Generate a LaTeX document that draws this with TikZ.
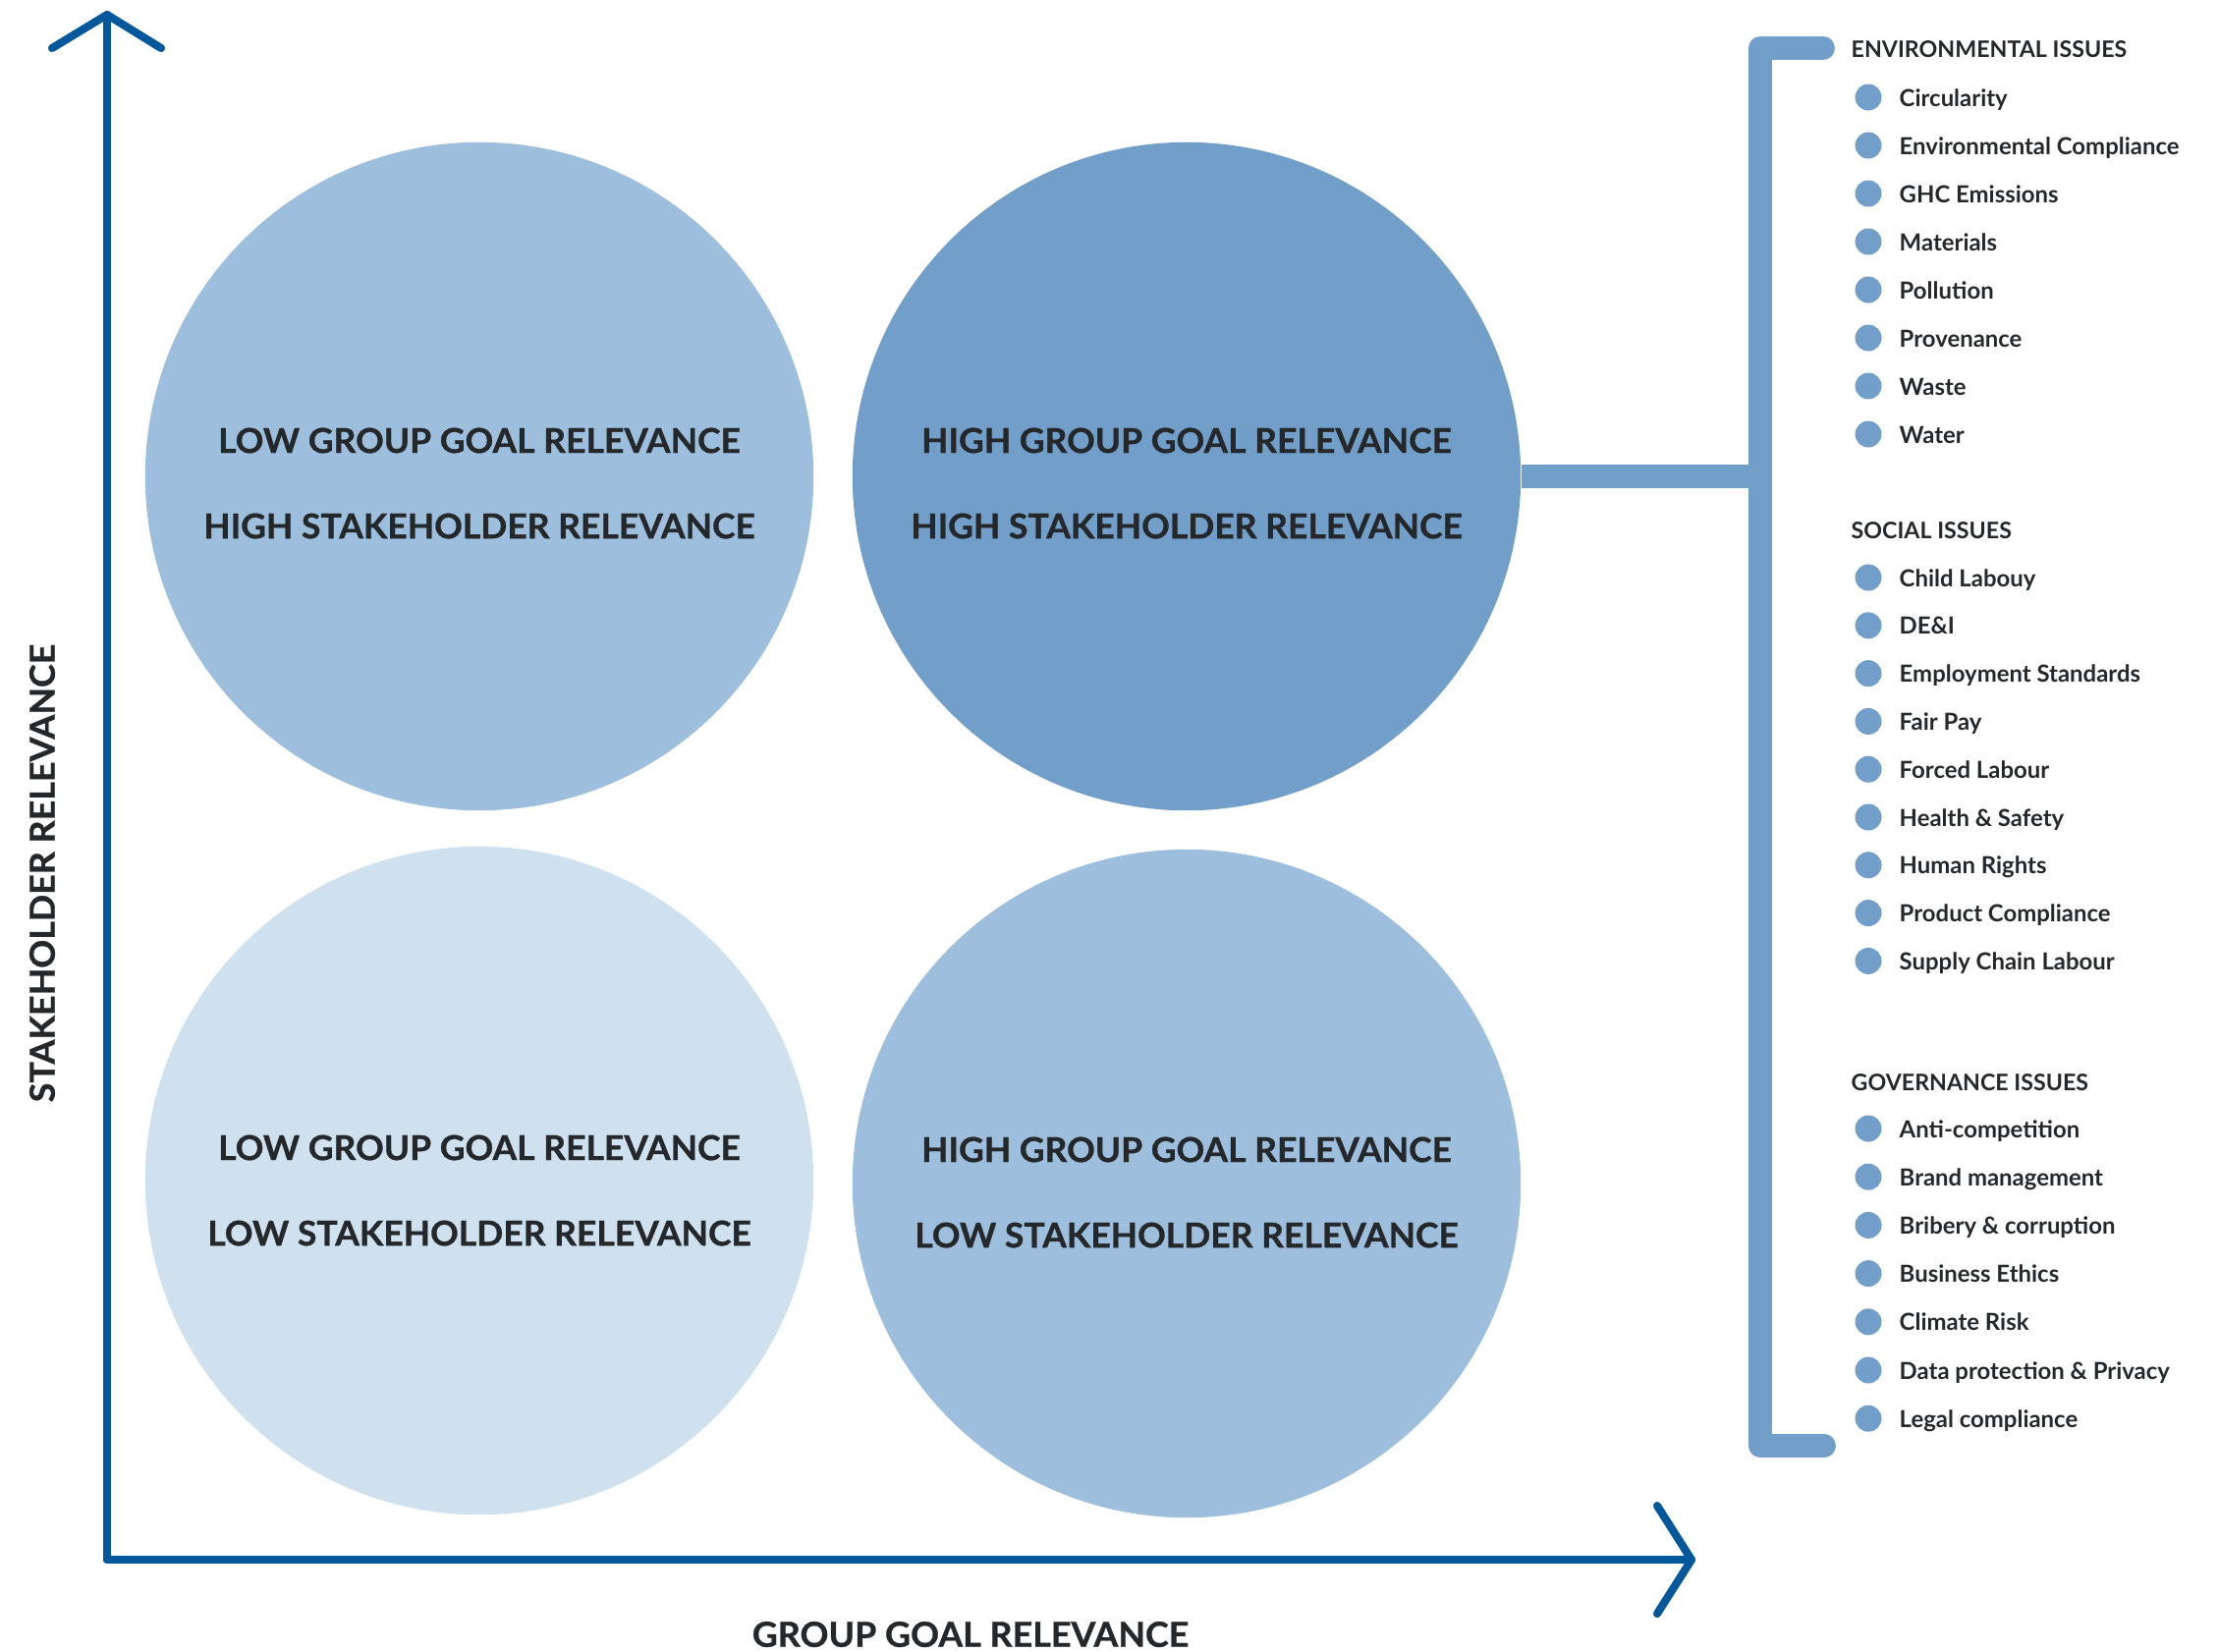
\documentclass[tikz,border=0pt]{standalone}
\usepackage{fontspec}
\setmainfont{Lato}
\newfontfamily\widefont{Lato}[FakeStretch=1.02, FakeBold=0.8]
\usetikzlibrary{positioning}

\definecolor{axisblue}{HTML}{02589A}
\definecolor{midblue}{HTML}{729FC9}
\definecolor{paleblue}{HTML}{9DBFDD}
\definecolor{palestblue}{HTML}{CFE1EF}
\definecolor{inkgrey}{HTML}{25282A}

\begin{document}
\begin{tikzpicture}[
    x=0.01cm, y=-0.01cm,
    every node/.style={text=inkgrey},
    axis/.style={draw=axisblue, line width=2.3pt, line cap=round, line join=round},
    bubble/.style={circle, minimum size=6.8cm, inner sep=0pt},
    quadtext/.style={align=center, inner sep=0pt,
        font=\widefont\bfseries\fontsize{9.9}{24.75}\selectfont},
    axislabel/.style={font=\widefont\bfseries\fontsize{10}{11}\selectfont},
    bracket/.style={draw=midblue, line width=6.8pt, line cap=round, line join=round},
    link/.style={draw=midblue, line width=6.8pt},
    head/.style={anchor=base west, inner sep=0pt, font=\bfseries\fontsize{6.6}{7}\selectfont},
    item/.style={anchor=base west, inner sep=0pt, font=\bfseries\fontsize{6.8}{8}\selectfont},
    dot/.style={circle, fill=midblue, minimum size=0.27cm, inner sep=0pt}
]
\useasboundingbox (0,0) rectangle (2258,1681);

% ============ AXES ============
\coordinate (origin) at (109,1588);
\coordinate (ytop) at (109,15);
\coordinate (xend) at (1722,1588);
\draw[axis] (origin) -- (ytop);
\draw[axis] (53,49) -- (ytop) -- (164,49);
\draw[axis] (origin) -- (xend);
\draw[axis] (1687,1533) -- (xend) -- (1687,1643);

\node[axislabel, rotate=90] (ylabel) at (43,889) {STAKEHOLDER RELEVANCE};
\node[axislabel] (xlabel) at (988,1664) {GROUP GOAL RELEVANCE};

% ============ QUADRANTS ============
\node[bubble, fill=paleblue] (lowhigh) at (488,485) {};
\node[bubble, fill=midblue] (highhigh) at (1208,485) {};
\node[bubble, fill=palestblue] (lowlow) at (488,1202) {};
\node[bubble, fill=paleblue] (highlow) at (1208,1205) {};

\node[quadtext] (lowhightext) at (488,492) {LOW GROUP GOAL RELEVANCE\\HIGH STAKEHOLDER RELEVANCE};
\node[quadtext] (highhightext) at (1208,492) {HIGH GROUP GOAL RELEVANCE\\HIGH STAKEHOLDER RELEVANCE};
\node[quadtext] (lowlowtext) at (488,1212) {LOW GROUP GOAL RELEVANCE\\LOW STAKEHOLDER RELEVANCE};
\node[quadtext] (highlowtext) at (1208,1214) {HIGH GROUP GOAL RELEVANCE\\LOW STAKEHOLDER RELEVANCE};

% ============ ISSUE BRACKET ============
\coordinate (join) at (1792,485);
\draw[link] (highhigh.east) -- (join);
\draw[bracket] (1856,49) -- (1792,49) -- (1792,1472) -- (1857,1472);

% Environmental
\node[head] (envhead) at (1884,58) {ENVIRONMENTAL ISSUES};
\foreach \name [count=\i] in {Circularity, Environmental Compliance, GHC Emissions, Materials,
    Pollution, Provenance, Waste, Water}
{
    \node[dot] (envdot\i) at (1902,{99+49*(\i-1)}) {};
    \node[item] (env\i) at (1933,{108+49*(\i-1)}) {\name};
}

% Social
\node[head] (sochead) at (1884,548) {SOCIAL ISSUES};
\foreach \name [count=\i] in {Child Labouy, DE\&I, Employment Standards, Fair Pay, Forced Labour,
    Health \& Safety, Human Rights, Product Compliance, Supply Chain Labour}
{
    \node[dot] (socdot\i) at (1902,{588+48.8*(\i-1)}) {};
    \node[item] (soc\i) at (1933,{597+48.8*(\i-1)}) {\name};
}

% Governance
\node[head] (govhead) at (1884,1110) {GOVERNANCE ISSUES};
\foreach \name [count=\i] in {Anti-competition, Brand management, Bribery \& corruption,
    Business Ethics, Climate Risk, Data protection \& Privacy, Legal compliance}
{
    \node[dot] (govdot\i) at (1902,{1149+49.2*(\i-1)}) {};
    \node[item] (gov\i) at (1933,{1158+49.2*(\i-1)}) {\name};
}

\end{tikzpicture}
\end{document}
